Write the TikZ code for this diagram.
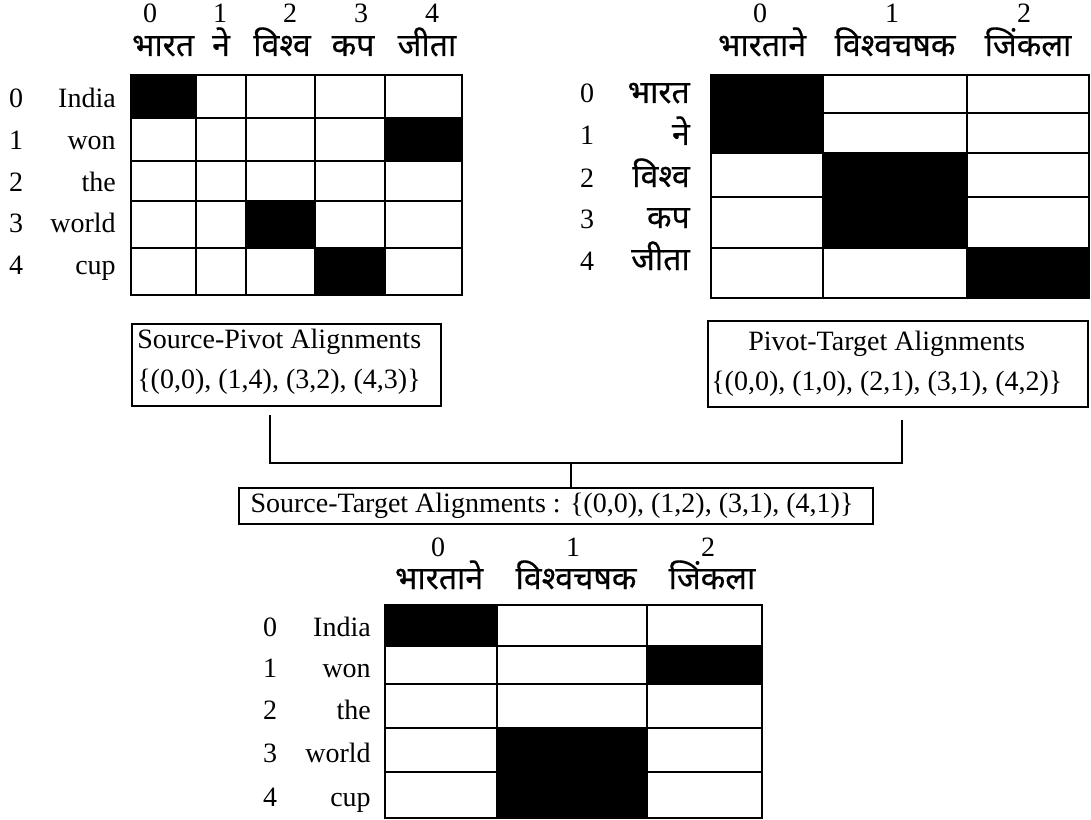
\documentclass[tikz,border=0pt]{standalone}
\usepackage{fontspec}
\setmainfont{Liberation Serif}
\newfontfamily\deva[Script=Devanagari,FakeBold=0.5]{Noto Sans}
\begin{document}
\begin{tikzpicture}[x=0.75pt,y=-0.75pt,
  lbl/.style={font=\fontsize{21}{25}\selectfont, inner sep=0pt},
  dv/.style={font=\deva\fontsize{24}{28}\selectfont, inner sep=0pt},
  cellw/.style={draw=black, line width=1.5pt, fill=white},
  cellb/.style={draw=black, line width=1.5pt, fill=black},
  boxst/.style={draw=black, line width=1.5pt, inner sep=0pt},
  conn/.style={draw=black, line width=1.2pt}]
\useasboundingbox (0,0) rectangle (1091,820);

% ---------- Grid 1: source-pivot ----------
\foreach \xa/\xb in {131/196,196/246,246/315,315/385,385/462}
  \foreach \ya/\yb in {75/118,118/161,161/201,201/248,248/295}
    \draw[cellw] (\xa,\ya) rectangle (\xb,\yb);
\draw[cellb] (131,75) rectangle (196,118);
\draw[cellb] (385,118) rectangle (462,161);
\draw[cellb] (246,201) rectangle (315,248);
\draw[cellb] (315,248) rectangle (385,295);

\foreach \n/\x in {0/150,1/220,2/290,3/361,4/432}
  \node[lbl, anchor=base] (ga\n) at (\x,23) {\n};
\node[dv, anchor=base] (ha0) at (163,56) {भारत};
\node[dv, anchor=base] (ha1) at (221,56) {ने};
\node[dv, anchor=base] (ha2) at (282,56) {विश्व};
\node[dv, anchor=base] (ha3) at (353,56) {कप};
\node[dv, anchor=base] (ha4) at (427,56) {जीता};
\foreach \n/\y/\w in {0/108/India,1/150/won,2/191/the,3/232/world,4/274/cup}{
  \node[lbl, anchor=base] (ra\n) at (16,\y) {\n};
  \node[lbl, anchor=base east] (wa\n) at (116,\y) {\w};
}

% ---------- Grid 2: pivot-target ----------
\draw[cellb] (711,75) rectangle (823,153);
\draw[cellw] (711,153) rectangle (823,197);
\draw[cellw] (711,197) rectangle (823,248);
\draw[cellw] (711,248) rectangle (823,298);
\draw[cellw] (823,75) rectangle (967,113);
\draw[cellw] (823,113) rectangle (967,153);
\draw[cellb] (823,153) rectangle (967,248);
\draw[cellw] (823,248) rectangle (967,298);
\draw[cellw] (967,75) rectangle (1089,113);
\draw[cellw] (967,113) rectangle (1089,153);
\draw[cellw] (967,153) rectangle (1089,197);
\draw[cellw] (967,197) rectangle (1089,248);
\draw[cellb] (967,248) rectangle (1089,298);

\foreach \n/\x in {0/760,1/892,2/1024}
  \node[lbl, anchor=base] (gb\n) at (\x,23) {\n};
\node[dv, anchor=base] (hb0) at (762,56) {भारताने};
\node[dv, anchor=base] (hb1) at (895,56) {विश्वचषक};
\node[dv, anchor=base] (hb2) at (1028,56) {जिंकला};
\foreach \n/\y in {0/103,1/145,2/187,3/228,4/270}
  \node[lbl, anchor=base] (rb\n) at (587,\y) {\n};
\node[dv, anchor=base east] (wb0) at (690,103) {भारत};
\node[dv, anchor=base east] (wb1) at (690,145) {ने};
\node[dv, anchor=base east] (wb2) at (690,187) {विश्व};
\node[dv, anchor=base east] (wb3) at (690,228) {कप};
\node[dv, anchor=base east] (wb4) at (690,270) {जीता};

% ---------- Alignment boxes ----------
\node[boxst, anchor=north west, minimum width=231.75pt, minimum height=61.5pt] (sp) at (131,323) {};
\node[lbl, anchor=base west] (sp1) at (137,348) {Source-Pivot Alignments};
\node[lbl, anchor=base west] (sp2) at (137,388) {\{(0,0), (1,4), (3,2), (4,3)\}};

\node[boxst, anchor=north west, minimum width=285pt, minimum height=64.5pt] (pt) at (707,320) {};
\node[lbl, anchor=base west] (pt1) at (748,350) {Pivot-Target Alignments};
\node[lbl, anchor=base west] (pt2) at (711,390) {\{(0,0), (1,0), (2,1), (3,1), (4,2)\}};

\node[boxst, anchor=north west, minimum width=475.5pt, minimum height=27pt] (st) at (238,487) {};
\node[lbl, anchor=base] (st1) at (552,512) {Source-Target Alignments : \{(0,0), (1,2), (3,1), (4,1)\}};

% ---------- Connector ----------
\coordinate (spb) at (270,415);
\coordinate (ptb) at (902,420);
\coordinate (mid) at (571,463);
\draw[conn] (spb) |- (mid) -| (ptb);
\draw[conn] (mid) -- (mid |- st.north);

% ---------- Grid 3: source-target ----------
\foreach \xa/\xb in {385/497,497/647,647/762}
  \foreach \ya/\yb in {605/646,646/684,684/728,728/772,772/818}
    \draw[cellw] (\xa,\ya) rectangle (\xb,\yb);
\draw[cellb] (385,605) rectangle (497,646);
\draw[cellb] (647,646) rectangle (762,684);
\draw[cellb] (497,728) rectangle (647,818);

\foreach \n/\x in {0/438,1/573,2/708}
  \node[lbl, anchor=base] (gc\n) at (\x,556) {\n};
\node[dv, anchor=base] (hc0) at (439,589) {भारताने};
\node[dv, anchor=base] (hc1) at (576,589) {विश्वचषक};
\node[dv, anchor=base] (hc2) at (712,589) {जिंकला};
\foreach \n/\y/\w in {0/636/India,1/677/won,2/719/the,3/762/world,4/806/cup}{
  \node[lbl, anchor=base] (rc\n) at (270,\y) {\n};
  \node[lbl, anchor=base east] (wc\n) at (371,\y) {\w};
}
\end{tikzpicture}
\end{document}
